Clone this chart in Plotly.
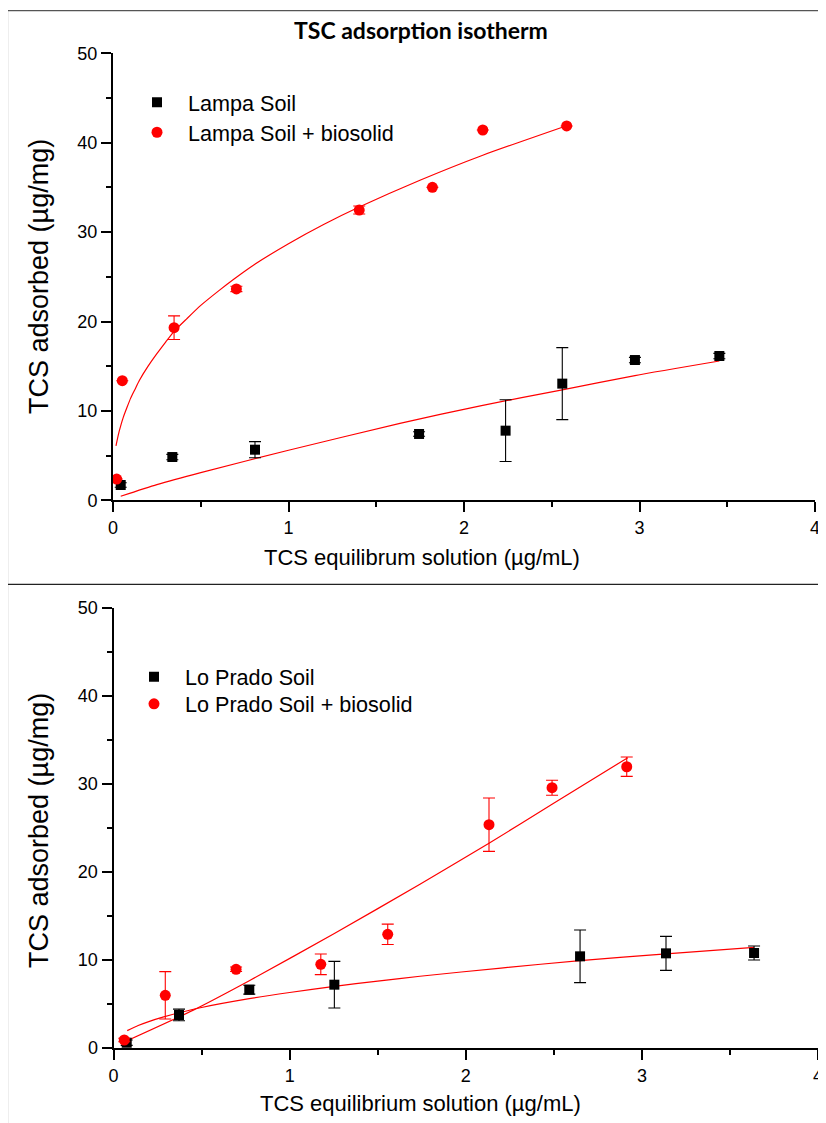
import plotly.graph_objects as go

W, H = 826, 1123

# ---------------- data: top panel (Lampa) ----------------
lampa_x = [0.044, 0.338, 0.809, 1.744, 2.237, 2.560, 2.974, 3.455]
lampa_y = [1.71, 4.84, 5.66, 7.42, 7.79, 13.05, 15.69, 16.14]
lampa_err = [0.25, 0.3, 0.9, 0.25, 3.45, 4.03, 0.3, 0.3]

lampa_bio_x = [0.021, 0.053, 0.348, 0.703, 1.403, 1.820, 2.107, 2.585]
lampa_bio_y = [2.38, 13.38, 19.31, 23.64, 32.47, 35.01, 41.42, 41.87]
lampa_bio_err = [0.0, 0.0, 1.32, 0.3, 0.45, 0.0, 0.0, 0.0]

lampa_fit_x = [0.044, 0.25, 0.5, 1.0, 1.635, 2.1, 2.56, 2.974, 3.455]
lampa_fit_y = [0.45, 1.75, 3.1, 5.6, 8.6, 10.6, 12.35, 13.95, 15.58]

lampa_bio_fit_x = [0.017, 0.03, 0.045, 0.059, 0.08, 0.1, 0.125, 0.15, 0.2, 0.25, 0.3, 0.348, 0.42, 0.5,
                   0.6, 0.686, 0.8, 1.0, 1.2, 1.403, 1.749, 2.107, 2.585]
lampa_bio_fit_y = [6.1, 7.3, 8.4, 9.3, 10.4, 11.4, 12.4, 13.4, 15.0, 16.4, 17.7, 18.9, 20.3, 21.8,
                   23.4, 24.7, 26.3, 28.7, 30.85, 32.8, 35.8, 38.6, 41.9]

# ---------------- data: bottom panel (Lo Prado) ----------------
prado_x = [0.075, 0.372, 0.771, 1.254, 2.649, 3.137, 3.637]
prado_y = [0.6, 3.75, 6.62, 7.19, 10.41, 10.75, 10.79]
prado_err = [0.3, 0.66, 0.5, 2.65, 2.99, 1.93, 0.8]

prado_bio_x = [0.061, 0.294, 0.696, 1.177, 1.557, 2.132, 2.490, 2.914]
prado_bio_y = [0.91, 5.98, 8.94, 9.50, 12.91, 25.36, 29.56, 31.94]
prado_bio_err = [0.2, 2.69, 0.25, 1.17, 1.16, 3.03, 0.85, 1.1]

prado_fit_x = [0.078, 0.14, 0.2, 0.28, 0.372, 0.5, 0.771, 1.0, 1.254, 1.5, 1.74, 2.2, 2.649, 3.137, 3.637]
prado_fit_y = [1.97, 2.55, 3.0, 3.5, 4.0, 4.6, 5.6, 6.3, 7.0, 7.6, 8.15, 9.08, 9.92, 10.69, 11.43]

prado_bio_fit_x = [0.061, 0.453, 0.771, 1.254, 1.74, 2.132, 2.49, 2.92]
prado_bio_fit_y = [0.68, 4.3, 7.64, 13.0, 18.6, 23.25, 27.67, 32.97]

x_ticks = [0, 1, 2, 3, 4]
y_ticks = [0, 10, 20, 30, 40, 50]

TXT = "Liberation Sans, Arial, sans-serif"
RED = "#ff0000"
OFF = 8  # page body margin of the rendered HTML

fig = go.Figure()

# fit lines
for fx, fy, xa, ya in [(lampa_fit_x, lampa_fit_y, "x", "y"),
                       (lampa_bio_fit_x, lampa_bio_fit_y, "x", "y"),
                       (prado_fit_x, prado_fit_y, "x2", "y2"),
                       (prado_bio_fit_x, prado_bio_fit_y, "x2", "y2")]:
    fig.add_trace(go.Scatter(x=fx, y=fy, mode="lines", line=dict(color=RED, width=1.2, shape="spline", smoothing=0.6),
                             showlegend=False, xaxis=xa, yaxis=ya, hoverinfo="skip"))

# markers
def pts(x, y, err, name, sym, color, size, xa, ya, leg):
    return go.Scatter(
        x=x, y=y, mode="markers", name=name, legend=leg,
        marker=dict(symbol=sym, color=color, size=size, line=dict(width=0)),
        error_y=dict(type="data", array=err, visible=True, color=color, thickness=1.1, width=6),
        xaxis=xa, yaxis=ya, cliponaxis=False,
    )

fig.add_trace(pts(lampa_x, lampa_y, lampa_err, "Lampa Soil", "square", "black", 10, "x", "y", "legend"))
fig.add_trace(pts(lampa_bio_x, lampa_bio_y, lampa_bio_err, "Lampa Soil + biosolid", "circle", RED, 11, "x", "y", "legend2"))
fig.add_trace(pts(prado_x, prado_y, prado_err, "Lo Prado Soil", "square", "black", 10, "x2", "y2", "legend3"))
fig.add_trace(pts(prado_bio_x, prado_bio_y, prado_bio_err, "Lo Prado Soil + biosolid", "circle", RED, 11, "x2", "y2", "legend4"))

def px(v):
    return (v - OFF) / W

def py(v):
    return 1 - (v - OFF) / H

axis_common = dict(
    showline=True, linecolor="black", linewidth=2, mirror=False,
    showgrid=False, zeroline=False, automargin=False,
    ticks="outside", ticklen=10, tickwidth=2, tickcolor="black",
    tickfont=dict(family=TXT, size=18, color="black"),
)
minor_x = dict(dtick=0.5, tick0=0, ticks="outside", ticklen=5, tickwidth=2, tickcolor="black")
minor_y = dict(dtick=5, tick0=0, ticks="outside", ticklen=5, tickwidth=2, tickcolor="black")

fig.update_layout(
    width=W, height=H, autosize=False,
    margin=dict(l=0, r=0, t=0, b=0, pad=0, autoexpand=False),
    paper_bgcolor="white", plot_bgcolor="white",
    xaxis=dict(domain=[px(113), px(815)], range=[0, 4], tickvals=x_ticks, anchor="y", minor=minor_x, **axis_common),
    yaxis=dict(domain=[py(500.3), py(53.3)], range=[0, 50], tickvals=y_ticks, anchor="x", minor=minor_y, **axis_common),
    xaxis2=dict(domain=[px(113.5), px(818)], range=[0, 4], tickvals=x_ticks, anchor="y2", minor=minor_x, **axis_common),
    yaxis2=dict(domain=[py(1048), py(607.7)], range=[0, 50], tickvals=y_ticks, anchor="x2", minor=minor_y, **axis_common),
    showlegend=True,
)

leg_common = dict(font=dict(family=TXT, size=21.6, color="black"), bgcolor="rgba(0,0,0,0)",
                  borderwidth=0, itemwidth=52, xanchor="left", yanchor="middle")
fig.update_layout(
    legend=dict(x=px(126), y=py(102.7), **leg_common),
    legend2=dict(x=px(126), y=py(132.7), **leg_common),
    legend3=dict(x=px(123), y=py(677.3), **leg_common),
    legend4=dict(x=px(123), y=py(704.3), **leg_common),
)

# frame lines
fig.add_shape(type="rect", xref="paper", yref="paper", x0=px(7.5), x1=px(850), y0=py(1150), y1=py(10.7),
              line=dict(color="#555555", width=1.2), fillcolor="rgba(0,0,0,0)", layer="below")
fig.add_shape(type="line", xref="paper", yref="paper", x0=px(7.5), x1=px(850), y0=py(584.3), y1=py(584.3),
              line=dict(color="#222222", width=1.2))

ann = []
ann.append(dict(text="<b>TSC adsorption isotherm</b>", x=px(421.5), y=py(30), xref="paper", yref="paper",
                showarrow=False, xanchor="center", yanchor="middle",
                font=dict(family="Lato, Carlito, Calibri, sans-serif", size=23, color="black")))
ann.append(dict(text="TCS equilibrum solution (µg/mL)", x=px(422), y=py(557), xref="paper", yref="paper",
                showarrow=False, xanchor="center", yanchor="middle",
                font=dict(family=TXT, size=22, color="black")))
ann.append(dict(text="TCS equilibrium solution (µg/mL)", x=px(420), y=py(1103), xref="paper", yref="paper",
                showarrow=False, xanchor="center", yanchor="middle",
                font=dict(family=TXT, size=22, color="black")))
ann.append(dict(text="TCS adsorbed (µg/mg)", x=px(39), y=py(277), xref="paper", yref="paper",
                showarrow=False, xanchor="center", yanchor="middle", textangle=-90,
                font=dict(family=TXT, size=27, color="black")))
ann.append(dict(text="TCS adsorbed (µg/mg)", x=px(39), y=py(831), xref="paper", yref="paper",
                showarrow=False, xanchor="center", yanchor="middle", textangle=-90,
                font=dict(family=TXT, size=27, color="black")))
fig.update_layout(annotations=ann)

fig.write_html("out.html")
